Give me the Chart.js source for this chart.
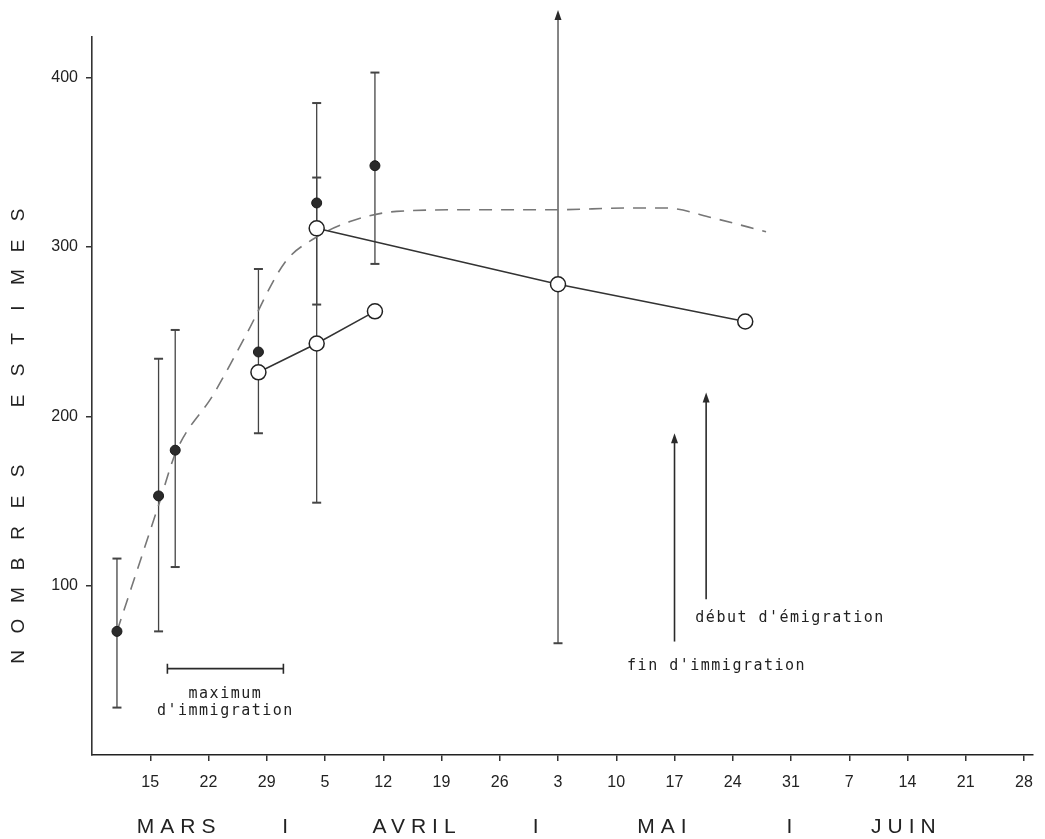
<!DOCTYPE html>
<html>
<head>
<meta charset="utf-8">
<script src="https://cdn.jsdelivr.net/npm/chart.js@4.4.1/dist/chart.umd.min.js"></script>
<style>
  html, body { margin: 0; padding: 0; background: #fff; }
  #wrap { width: 1045px; height: 839px; }
</style>
</head>
<body>
<div id="wrap"><canvas id="popChart" width="1045" height="839"></canvas></div>
<script>
// x values are days counted from 1 March (5 avril = 36, 3 mai = 64, 7 juin = 99)
var xTickDays = [15, 22, 29, 36, 43, 50, 57, 64, 71, 78, 85, 92, 99, 106, 113, 120];
var xTickLabels = ['15', '22', '29', '5', '12', '19', '26', '3', '10', '17', '24', '31', '7', '14', '21', '28'];
var yTickValues = [100, 200, 300, 400];

var monthNames = ['MARS', 'AVRIL', 'MAI', 'JUIN'];
var monthCenters = [18.1, 46.7, 76.5, 105.5];
var monthBreaks = [31.2, 61.3, 91.8];

// filled dots
var dotDays = [11, 16, 18, 28, 35, 42];
var dotValues = [73, 153, 180, 238, 326, 348];

// open circles, two connected runs
var openADays = [28, 35, 42];
var openAValues = [226, 243, 262];
var openBDays = [35, 64, 86.5];
var openBValues = [311, 278, 256];

// dashed curve
var curveDays = [11, 16.1, 18.1, 22.6, 26.4, 31.2, 34.7, 39, 44.6, 54, 64, 72, 77, 82.7, 89];
var curveValues = [73, 149, 179, 213, 247, 291, 305, 315, 321, 322, 322, 323, 323, 317, 309];

// error bars (last one ends in an arrow)
var errDays = [11, 16, 18, 28, 35, 35, 42, 64];
var errLow = [28, 73, 111, 190, 149, 266, 290, 66];
var errHigh = [116, 234, 251, 287, 385, 341, 403, 440];
var errArrow = [false, false, false, false, false, false, false, true];

// event arrows
var eventDays = [78, 81.8];
var eventFrom = [67, 92];
var eventTo = [190, 214];
var eventTexts = ["fin d'immigration", "début d'émigration"];
var eventTextDays = [72.3, 80.5];
var eventTextValues = [52.7, 80.9];

// maximum d'immigration bracket
var maxImmDays = [17.06, 31.0];
var maxImmValue = 51;

function toPoints(xs, ys) {
    return xs.map(function (x, i) { return { x: x, y: ys[i] }; });
}

var mono = '"DejaVu Sans Mono", "Liberation Mono", monospace';

var extras = {
    id: 'extras',
    beforeDatasetsDraw: function (chart) {
        var ctx = chart.ctx;
        var xs = chart.scales.x, ys = chart.scales.y;
        ctx.save();
        ctx.strokeStyle = '#444';
        ctx.fillStyle = '#2a2a2a';
        ctx.lineWidth = 1.3;
        for (var i = 0; i < errDays.length; i++) {
            var px = xs.getPixelForValue(errDays[i]);
            var lo = ys.getPixelForValue(errLow[i]);
            var hi = ys.getPixelForValue(errHigh[i]);
            ctx.beginPath();
            ctx.moveTo(px, lo);
            ctx.lineTo(px, hi + (errArrow[i] ? 6 : 0));
            ctx.stroke();
            ctx.beginPath();
            ctx.moveTo(px - 4.5, lo);
            ctx.lineTo(px + 4.5, lo);
            ctx.lineWidth = 2;
            ctx.stroke();
            ctx.lineWidth = 1.3;
            if (errArrow[i]) {
                ctx.beginPath();
                ctx.moveTo(px, hi);
                ctx.lineTo(px - 3.5, hi + 10);
                ctx.lineTo(px + 3.5, hi + 10);
                ctx.closePath();
                ctx.fill();
            } else {
                ctx.beginPath();
                ctx.moveTo(px - 4.5, hi);
                ctx.lineTo(px + 4.5, hi);
                ctx.lineWidth = 2;
                ctx.stroke();
                ctx.lineWidth = 1.3;
            }
        }

        // event arrows
        ctx.strokeStyle = '#2a2a2a';
        ctx.lineWidth = 1.6;
        for (var j = 0; j < eventDays.length; j++) {
            var ax = xs.getPixelForValue(eventDays[j]);
            var a0 = ys.getPixelForValue(eventFrom[j]);
            var a1 = ys.getPixelForValue(eventTo[j]);
            ctx.beginPath();
            ctx.moveTo(ax, a0);
            ctx.lineTo(ax, a1 + 6);
            ctx.stroke();
            ctx.beginPath();
            ctx.moveTo(ax, a1);
            ctx.lineTo(ax - 3.5, a1 + 10);
            ctx.lineTo(ax + 3.5, a1 + 10);
            ctx.closePath();
            ctx.fill();
        }

        // maximum d'immigration bracket
        var m0 = xs.getPixelForValue(maxImmDays[0]);
        var m1 = xs.getPixelForValue(maxImmDays[1]);
        var my = ys.getPixelForValue(maxImmValue);
        ctx.lineWidth = 1.6;
        ctx.beginPath();
        ctx.moveTo(m0, my); ctx.lineTo(m1, my);
        ctx.moveTo(m0, my - 5); ctx.lineTo(m0, my + 5);
        ctx.moveTo(m1, my - 5); ctx.lineTo(m1, my + 5);
        ctx.stroke();
        ctx.restore();
    },
    afterDraw: function (chart) {
        var ctx = chart.ctx;
        var xs = chart.scales.x, ys = chart.scales.y;
        ctx.save();
        ctx.fillStyle = '#222';

        // typewriter notes
        ctx.font = '15px ' + mono;
        if ('letterSpacing' in ctx) ctx.letterSpacing = '1.5px';
        ctx.textBaseline = 'middle';
        ctx.textAlign = 'left';
        for (var k = 0; k < eventTexts.length; k++) {
            ctx.fillText(eventTexts[k], xs.getPixelForValue(eventTextDays[k]), ys.getPixelForValue(eventTextValues[k]));
        }
        ctx.textAlign = 'center';
        var mc = xs.getPixelForValue((maxImmDays[0] + maxImmDays[1]) / 2);
        ctx.fillText('maximum', mc, ys.getPixelForValue(36));
        ctx.fillText("d'immigration", mc, ys.getPixelForValue(26));

        // month names under the axis
        ctx.font = '21px "Liberation Sans", Arial, sans-serif';
        if ('letterSpacing' in ctx) ctx.letterSpacing = '6px';
        ctx.textAlign = 'center';
        for (var m = 0; m < monthNames.length; m++) {
            ctx.fillText(monthNames[m], xs.getPixelForValue(monthCenters[m]) + 3, 827);
        }
        for (var b = 0; b < monthBreaks.length; b++) {
            ctx.fillText('I', xs.getPixelForValue(monthBreaks[b]) + 3, 827);
        }

        // vertical axis title, one letter at a time
        if ('letterSpacing' in ctx) ctx.letterSpacing = '0px';
        ctx.font = '19px "Liberation Sans", Arial, sans-serif';
        var title = 'NOMBRES ESTIMES';
        var ty = 657;
        for (var c = 0; c < title.length; c++) {
            if (title[c] === ' ') { ty -= 39; continue; }
            ctx.save();
            ctx.translate(19, ty);
            ctx.rotate(-Math.PI / 2);
            ctx.fillText(title[c], 0, 0);
            ctx.restore();
            ty -= 31;
        }
        ctx.restore();
    }
};

Chart.defaults.font.family = '"Liberation Sans", Arial, sans-serif';
Chart.defaults.color = '#222';

var ctx = document.getElementById('popChart').getContext('2d');
var popChart = new Chart(ctx, {
    type: 'scatter',
    data: {
        datasets: [
            {
                label: 'courbe',
                data: toPoints(curveDays, curveValues),
                showLine: true,
                borderColor: '#777',
                borderWidth: 1.6,
                borderDash: [13, 9],
                pointRadius: 0,
                cubicInterpolationMode: 'monotone',
                order: 4
            },
            {
                label: 'ouverts A',
                data: toPoints(openADays, openAValues),
                showLine: true,
                borderColor: '#333',
                borderWidth: 1.5,
                pointRadius: 7.5,
                pointBackgroundColor: '#fff',
                pointBorderColor: '#222',
                pointBorderWidth: 1.5,
                order: 2
            },
            {
                label: 'ouverts B',
                data: toPoints(openBDays, openBValues),
                showLine: true,
                borderColor: '#333',
                borderWidth: 1.5,
                pointRadius: 7.5,
                pointBackgroundColor: '#fff',
                pointBorderColor: '#222',
                pointBorderWidth: 1.5,
                order: 2
            },
            {
                label: 'pleins',
                data: toPoints(dotDays, dotValues),
                showLine: false,
                pointRadius: 5,
                pointBackgroundColor: '#2b2b2b',
                pointBorderColor: '#1a1a1a',
                pointBorderWidth: 1,
                order: 1
            }
        ]
    },
    options: {
        responsive: false,
        animation: false,
        events: [],
        layout: { padding: { top: 37, right: 3, left: 0, bottom: 0 } },
        plugins: {
            legend: { display: false },
            tooltip: { enabled: false }
        },
        scales: {
            x: {
                type: 'linear',
                min: 8,
                max: 121,
                afterBuildTicks: function (scale) {
                    scale.ticks = xTickDays.map(function (v) { return { value: v }; });
                },
                afterFit: function (scale) { scale.height = 84; },
                ticks: {
                    autoSkip: false,
                    maxRotation: 0,
                    padding: 12,
                    font: { size: 16 },
                    color: '#222',
                    callback: function (value) {
                        var idx = xTickDays.indexOf(value);
                        return idx >= 0 ? xTickLabels[idx] : '';
                    }
                },
                grid: { drawOnChartArea: false, color: '#333', tickLength: 6, lineWidth: 1.5 },
                border: { color: '#222', width: 1.6 }
            },
            y: {
                min: 0,
                max: 424,
                afterBuildTicks: function (scale) {
                    scale.ticks = yTickValues.map(function (v) { return { value: v }; });
                },
                afterFit: function (scale) { scale.width = 92; },
                ticks: {
                    padding: 8,
                    font: { size: 16 },
                    color: '#222'
                },
                grid: { drawOnChartArea: false, color: '#333', tickLength: 6, lineWidth: 1.5 },
                border: { color: '#333', width: 1.6 }
            }
        }
    },
    plugins: [extras]
});
</script>
</body>
</html>
